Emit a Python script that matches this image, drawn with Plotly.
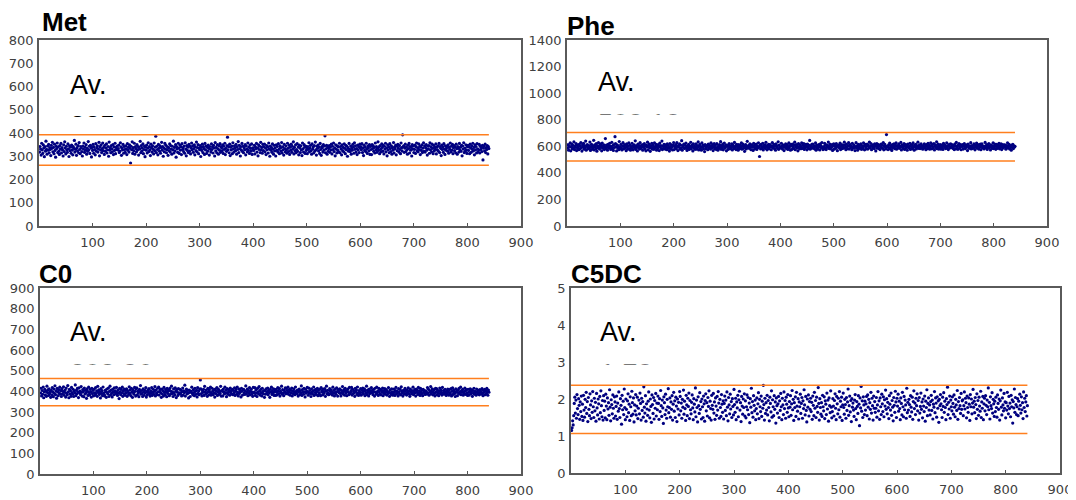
import plotly.graph_objects as go

# ---------------- data ----------------
met = [
318,342,331,305,356,327,312,349,336,298,341,322,365,330,309,344,326,351,315,337,
329,303,347,334,360,319,338,311,352,325,296,343,333,357,316,340,322,308,346,331,
355,314,337,327,301,349,320,362,335,310,343,328,317,353,332,299,345,324,339,313,
348,326,306,341,334,368,318,330,352,304,337,323,346,315,359,329,311,342,336,320,
301,344,331,357,317,339,326,350,309,334,321,363,328,343,312,347,335,297,338,325,
351,313,340,329,306,354,322,336,345,318,331,360,302,341,327,349,316,333,357,324,
339,308,347,321,335,353,314,328,342,300,361,326,337,315,346,332,319,350,307,340,
325,356,311,338,330,344,327,333,348,316,322,358,340,304,335,327,351,313,342,329,
317,345,332,307,354,326,339,318,349,334,271,343,328,362,312,337,324,356,309,341,
333,319,350,327,342,305,338,331,364,315,346,322,336,353,311,329,344,298,339,326,
348,314,335,358,320,341,327,303,352,337,318,345,330,310,357,324,339,386,316,343,
329,306,351,334,322,345,313,338,360,326,342,300,335,319,355,331,347,315,328,340,
304,337,324,353,318,346,331,309,343,327,365,314,338,323,350,296,341,332,317,356,
335,312,348,326,341,307,354,329,337,320,344,313,358,331,302,346,325,339,316,351,
322,343,310,336,357,328,345,317,333,349,306,340,324,361,319,337,350,311,334,328,
346,299,338,325,352,316,341,333,308,355,327,344,312,339,322,348,334,305,342,330,
318,353,329,340,314,347,336,301,359,323,338,315,350,332,309,345,326,354,317,341,
337,324,349,312,343,330,356,307,334,321,346,382,328,341,315,352,303,339,327,344,
311,358,332,318,345,336,324,351,309,340,329,363,316,347,333,301,342,326,355,320,
343,315,337,328,350,306,344,331,319,357,325,339,312,348,334,322,353,308,336,330,
325,347,310,341,333,355,318,336,302,349,329,343,316,360,327,338,313,351,324,340,
352,319,335,307,346,328,341,314,357,332,300,344,326,338,317,353,331,309,347,323,
336,301,349,325,342,318,354,330,311,345,337,322,359,314,340,328,305,351,333,319,
344,327,313,356,334,320,347,308,339,326,352,317,343,331,362,310,338,324,349,315,
329,354,321,340,306,348,335,316,345,327,303,357,332,318,350,339,312,344,325,337,
311,342,330,358,319,336,347,324,309,353,331,340,314,346,322,361,328,305,343,334,
348,323,339,312,355,329,304,341,337,318,350,326,344,388,315,332,347,309,338,321,
333,346,317,340,327,352,310,343,329,357,320,336,302,349,331,314,345,325,340,318,
356,315,342,331,306,349,324,338,319,353,334,311,347,328,343,300,336,322,355,330,
320,344,309,337,326,351,339,313,358,330,345,318,333,307,348,327,341,316,352,335,
341,328,354,316,335,303,347,325,339,320,356,331,312,344,336,323,350,308,342,329,
307,350,333,345,321,338,314,357,328,342,317,334,362,325,340,311,346,330,319,353,
338,322,347,310,343,331,356,319,336,302,349,327,341,315,354,333,320,345,309,337,
326,359,314,340,332,348,306,343,324,351,335,318,346,329,311,357,337,323,392,340,
345,317,335,352,320,339,328,309,347,333,355,314,342,326,338,301,350,331,344,316,
330,348,312,341,357,324,336,319,353,329,343,307,339,325,349,316,335,358,321,345,
318,337,350,326,305,344,332,346,313,358,328,340,319,352,334,311,347,323,339,330,
353,310,339,327,345,321,355,316,342,334,303,348,329,341,317,354,331,308,345,326,
336,344,322,349,313,338,330,357,319,343,326,351,311,337,346,324,340,315,352,333,
309,342,334,318,355,327,339,321,347,302,344,331,358,316,335,322,349,328,312,341,
347,325,340,311,352,336,317,345,330,356,323,338,306,349,327,342,314,354,332,319,
328,351,314,343,329,338,320,347,284,335,344,323,352,316,337,329,346,310,341,333,
]

phe = [
588,612,571,603,594,625,566,598,617,580,607,589,633,575,601,592,620,568,610,585,
597,574,615,602,583,628,591,564,609,596,622,578,605,587,639,570,600,613,581,594,
606,585,632,569,598,614,577,603,590,645,572,611,595,582,620,563,604,588,627,599,
579,618,593,607,566,624,586,600,611,575,596,658,583,609,592,571,615,601,587,623,
602,576,597,630,584,606,569,613,591,672,621,598,565,610,588,603,574,636,595,582,
614,589,572,604,627,580,599,612,586,607,567,619,594,578,602,625,583,609,570,597,
585,622,601,573,596,611,588,641,576,603,593,565,616,590,606,579,628,598,584,610,
598,570,613,592,620,581,604,566,608,595,631,574,600,617,587,562,605,591,623,578,
609,594,577,626,588,601,615,571,597,583,612,600,568,624,593,606,581,639,575,602,
587,615,603,579,610,592,574,618,590,606,584,564,621,597,580,611,594,572,607,628,
575,601,590,613,582,627,599,568,605,593,618,578,609,586,642,570,603,595,616,584,
611,586,624,597,569,604,588,615,576,600,592,630,581,607,596,565,619,589,604,577,
594,619,578,606,591,633,572,602,614,585,598,571,625,593,609,580,604,560,612,597,
582,606,599,574,617,588,610,595,579,626,601,587,613,568,598,620,583,607,591,576,
620,591,570,603,584,612,596,635,577,604,589,616,573,600,624,586,595,611,566,605,
599,576,608,621,593,581,603,588,619,572,610,597,583,629,591,604,575,615,600,587,
571,613,596,583,607,590,625,578,601,616,585,606,562,598,612,580,594,637,588,603,
606,585,619,598,574,611,592,603,569,622,595,580,608,591,617,576,602,589,626,594,
523,608,580,614,597,586,623,572,605,593,611,584,630,599,573,607,590,614,581,600,
612,595,574,602,628,587,599,615,583,606,570,619,594,603,585,634,577,609,596,588,
590,623,601,579,611,596,568,607,592,618,584,600,613,576,597,625,589,605,571,614,
603,577,616,594,585,609,631,574,598,612,587,604,566,620,593,581,610,599,582,626,
584,610,592,621,576,603,589,614,600,573,617,595,584,607,644,578,602,591,615,586,
617,593,606,581,598,625,570,609,587,601,579,613,597,572,618,604,588,628,594,575,
596,580,623,607,589,575,611,593,602,632,584,598,616,580,605,591,612,569,603,619,
578,614,599,585,621,601,567,606,594,610,588,624,575,600,613,583,597,608,586,631,
608,592,574,617,596,582,605,628,579,603,612,590,599,574,622,595,586,610,601,568,
593,627,588,602,571,615,598,584,609,591,619,577,606,592,580,626,603,573,614,597,
581,603,616,579,609,594,632,587,600,621,574,604,589,611,597,583,618,600,565,605,
620,586,597,612,583,606,575,598,617,590,609,585,628,573,602,614,594,580,688,599,
597,575,611,590,624,580,605,592,569,613,600,587,618,596,582,607,625,578,603,591,
604,618,585,601,593,629,572,610,597,584,606,621,576,599,612,589,604,570,616,595,
587,600,623,576,607,594,613,582,625,598,571,609,593,615,580,603,596,631,585,601,
611,583,596,618,589,602,578,606,594,619,587,600,574,612,599,583,622,593,607,578,
594,626,605,581,614,597,587,621,572,604,610,590,634,582,598,616,579,605,591,613,
578,600,590,611,576,623,601,594,608,583,597,626,588,603,575,612,600,588,619,596,
615,589,607,584,598,575,616,603,580,629,594,602,577,609,620,586,596,613,574,601,
599,612,579,604,621,592,583,607,595,611,568,617,598,585,603,593,627,580,606,590,
584,606,618,591,573,609,597,624,586,600,613,579,605,592,616,574,602,619,587,598,
602,580,595,629,603,587,612,576,608,594,621,589,600,572,611,598,584,604,626,583,
590,617,601,577,614,599,585,610,596,623,581,606,592,618,575,603,613,588,597,609,
611,594,578,605,592,626,587,601,615,580,604,596,571,609,590,614,583,603,594,600,
]

c0 = [
392,415,378,404,386,421,369,398,410,383,401,376,425,394,407,380,412,389,399,371,
405,382,418,396,374,411,390,427,384,402,367,414,397,379,408,393,420,386,403,375,
413,388,400,422,381,395,406,372,416,391,383,428,398,369,409,387,403,376,419,394,
386,410,375,402,393,431,379,405,388,414,397,370,417,392,401,384,423,395,377,408,
399,374,416,387,405,391,366,412,400,380,420,394,383,409,396,372,415,389,404,378,
410,393,381,418,389,402,376,424,395,407,385,399,368,413,390,403,379,421,392,386,
378,405,398,371,411,394,387,416,375,400,425,383,406,392,373,410,399,384,417,396,
402,387,419,395,380,406,391,365,414,398,384,409,393,420,376,402,389,411,381,404,
391,412,376,403,397,385,422,390,407,379,415,396,371,408,394,386,419,400,377,413,
417,383,401,392,374,409,398,428,386,404,390,375,412,397,381,405,393,418,372,399,
384,407,395,413,388,377,402,391,418,380,396,410,386,400,423,378,406,392,384,415,
398,420,382,399,409,393,371,411,387,403,377,419,395,384,408,397,374,414,390,402,
406,379,414,386,400,425,389,397,375,412,392,383,417,401,370,409,396,380,413,388,
393,410,388,405,378,398,416,382,402,394,430,377,399,411,387,404,391,368,406,395,
375,401,397,420,391,383,408,394,379,415,400,386,405,373,418,390,402,384,411,455,
412,389,378,403,395,410,380,424,398,387,406,392,376,414,399,383,408,395,420,381,
390,415,401,384,407,393,372,411,389,402,418,380,397,409,385,401,390,424,377,404,
401,378,411,396,388,420,391,405,374,413,394,386,408,399,381,416,392,403,387,410,
384,404,392,417,380,400,409,386,421,395,378,412,390,406,397,373,415,401,382,408,
409,393,385,402,426,388,397,411,379,404,391,418,383,400,410,386,396,376,419,392,
396,418,380,407,392,375,414,398,387,423,401,382,409,393,378,415,399,388,404,371,
403,386,412,390,399,416,383,405,394,371,410,397,420,385,402,391,412,380,398,407,
380,409,395,383,418,402,389,413,377,400,394,425,386,408,392,379,405,396,417,388,
414,391,403,420,386,397,410,381,405,392,416,378,401,389,412,399,384,421,393,402,
389,406,377,399,411,384,402,393,426,380,408,396,386,415,398,373,410,391,400,419,
398,381,416,392,404,390,375,412,396,387,402,421,380,406,394,409,385,399,414,379,
407,394,386,410,379,418,397,403,383,411,390,399,413,376,401,425,388,405,392,384,
385,413,401,389,407,396,382,420,391,404,378,410,395,386,417,399,377,408,400,393,
412,390,378,405,394,423,387,399,408,381,415,392,403,379,400,411,396,384,419,389,
394,403,419,382,410,389,401,393,376,414,398,407,385,421,392,380,404,397,388,413,
381,408,395,416,388,400,412,379,403,391,425,384,406,396,378,411,389,402,394,418,
403,392,384,409,398,377,415,396,386,420,393,401,380,414,399,387,410,383,405,395,
416,379,402,391,413,386,397,408,382,400,389,418,395,376,407,393,385,412,398,381,
390,411,396,380,404,419,388,401,393,378,413,397,386,409,383,422,400,391,377,405,
399,386,414,403,390,382,407,395,417,388,401,376,411,398,387,404,393,420,384,400,
408,393,377,411,396,405,385,419,391,402,380,414,397,389,406,379,410,395,403,387,
385,402,398,387,418,392,410,381,404,396,423,388,400,412,383,395,407,390,378,414,
397,413,384,405,393,379,401,416,389,407,395,382,419,391,404,386,399,410,392,380,
402,389,411,396,381,408,394,387,413,378,400,417,385,406,398,390,375,412,396,404,
379,406,393,414,387,399,420,384,403,395,409,381,397,389,416,402,385,408,393,380,
410,395,382,401,412,388,397,407,376,404,391,415,386,400,394,381,411,398,389,405,
392,383,408,395,400,386,413,390,379,405,397,410,384,402,389,414,395,381,406,396,
]

c5dc = [
1.15,1.22,1.41,1.30,1.55,1.88,2.05,1.62,1.97,1.48,2.12,1.74,1.58,2.01,1.83,1.45,1.92,1.66,2.08,1.53,
1.86,1.42,2.10,1.70,1.51,1.99,1.77,2.18,1.61,1.93,1.39,2.04,1.72,1.55,2.14,1.84,1.47,1.95,1.64,2.20,
1.79,1.50,2.02,1.68,1.91,1.40,2.15,1.76,1.57,2.00,1.87,1.46,2.07,1.63,2.22,1.82,1.52,1.96,1.43,2.09,
1.69,1.94,1.49,2.13,1.81,1.44,2.03,1.73,1.90,1.56,2.25,1.78,1.41,1.98,1.85,1.60,2.11,1.75,1.48,2.06,
1.92,1.54,1.80,2.08,1.45,1.89,1.67,2.19,1.74,1.50,2.01,1.83,1.32,2.10,1.71,1.94,1.58,2.27,1.77,1.44,
2.00,1.72,1.52,1.95,2.14,1.63,1.86,1.42,2.06,1.79,1.55,2.21,1.90,1.59,2.03,1.38,1.84,1.68,2.12,1.57,
1.81,2.05,1.47,1.75,1.97,1.60,2.16,1.88,1.43,2.02,1.69,1.93,1.51,2.33,1.78,1.62,2.09,1.40,1.87,1.73,
1.56,1.94,2.19,1.70,1.49,2.00,1.80,1.37,2.11,1.85,1.61,2.04,1.46,1.96,1.75,2.15,1.54,1.89,1.71,2.08,
1.88,1.45,2.01,1.66,2.23,1.82,1.53,1.97,1.76,1.34,2.06,1.90,1.58,2.13,1.70,1.48,1.99,1.79,2.28,1.63,
1.77,2.03,1.51,1.92,1.72,2.09,1.43,1.86,2.18,1.67,1.95,1.50,2.05,1.81,1.39,2.00,1.73,1.91,1.57,2.20,
2.07,1.68,1.89,1.48,1.99,1.78,2.24,1.59,1.94,1.74,1.42,2.10,1.84,1.55,2.02,1.80,2.16,1.47,1.96,1.71,
1.60,1.91,2.11,1.76,1.44,2.01,1.86,1.65,2.30,1.52,1.97,1.77,1.38,2.06,1.82,1.61,2.17,1.72,1.93,1.46,
2.00,1.79,1.50,2.08,1.87,1.40,1.96,2.14,1.68,1.90,1.54,2.04,1.80,2.22,1.49,1.94,1.74,1.43,2.10,1.83,
1.72,2.15,1.62,1.92,1.45,2.03,1.81,1.56,2.07,1.70,2.20,1.89,1.48,1.99,1.77,1.53,2.12,1.86,1.64,1.95,
1.46,1.88,2.08,1.69,1.97,1.55,2.19,1.78,1.41,2.04,1.84,1.60,2.13,1.73,1.93,1.50,2.01,1.80,1.57,2.26,
1.85,1.64,2.02,1.44,1.92,1.76,2.10,1.52,1.98,2.21,1.70,1.90,1.39,2.07,1.81,1.59,2.00,1.77,2.14,1.54,
1.95,1.49,1.79,2.11,1.71,2.04,1.58,1.89,1.36,2.01,1.78,2.29,1.63,1.93,1.51,2.09,1.83,1.68,1.97,1.44,
1.74,2.03,1.60,1.87,2.17,1.47,1.99,1.79,1.66,2.08,1.53,1.94,1.75,2.37,1.85,1.43,2.02,1.61,1.90,1.70,
2.10,1.57,1.96,1.77,1.41,2.05,1.88,1.65,2.22,1.51,1.98,1.79,1.55,2.09,1.72,1.92,1.35,2.03,1.82,1.62,
1.87,2.07,1.50,1.95,1.69,2.15,1.79,1.44,2.02,1.84,1.58,2.19,1.74,1.96,1.48,2.05,1.86,1.64,2.12,1.76,
1.52,1.93,1.78,2.09,1.56,1.87,2.23,1.71,1.99,1.42,1.90,1.77,2.06,1.53,2.18,1.81,1.67,2.01,1.46,1.92,
1.79,2.13,1.61,1.88,2.04,1.48,1.95,1.74,2.25,1.84,1.57,2.07,1.69,1.38,2.00,1.78,2.11,1.54,1.93,1.72,
2.02,1.66,1.91,1.45,2.08,1.83,1.55,2.18,1.75,1.96,1.50,2.05,1.80,1.64,2.31,1.88,1.43,2.01,1.77,1.59,
1.90,1.53,2.10,1.79,1.68,2.06,1.47,1.95,1.86,1.58,2.16,1.73,1.97,1.40,2.03,1.82,1.63,2.22,1.78,1.49,
1.66,2.01,1.81,1.54,1.96,2.14,1.75,1.44,2.07,1.87,1.60,2.02,1.71,2.20,1.51,1.94,1.79,2.05,1.42,1.84,
2.16,1.77,1.59,1.99,1.85,1.48,2.04,1.69,1.92,2.27,1.56,1.82,2.08,1.65,1.96,1.39,2.01,1.78,1.89,1.70,
1.53,1.97,2.12,1.74,1.44,1.93,1.80,1.61,2.09,1.86,1.28,2.03,1.76,2.34,1.67,1.95,1.50,2.06,1.84,1.58,
1.94,1.70,1.87,2.07,1.55,2.11,1.78,1.99,1.46,1.90,1.72,2.18,1.62,2.02,1.82,1.43,2.08,1.75,1.93,1.64,
1.75,2.04,1.51,1.84,2.20,1.68,1.95,1.45,2.03,1.79,1.58,2.13,1.87,1.66,2.06,1.52,1.98,1.81,2.24,1.72,
2.01,1.60,1.91,1.77,1.47,2.09,1.86,1.70,2.16,1.56,1.96,1.78,1.41,2.04,1.83,1.64,2.21,1.92,1.50,2.02,
1.81,2.13,1.67,1.94,1.74,1.44,2.03,1.88,1.57,2.18,1.79,1.52,2.07,1.71,1.97,1.84,1.48,2.29,1.63,1.91,
1.70,1.99,1.85,1.53,2.09,1.78,1.65,2.05,1.45,1.93,2.22,1.74,1.89,1.58,2.02,1.82,2.14,1.68,1.96,1.43,
2.04,1.62,1.80,2.16,1.72,1.92,1.49,2.00,1.81,1.66,2.08,1.40,1.94,1.77,2.25,1.55,1.88,2.03,1.70,1.84,
1.57,1.93,2.10,1.69,1.97,1.46,1.86,1.78,2.20,1.63,2.03,1.89,1.51,2.06,1.75,1.95,1.37,1.99,1.82,2.12,
1.87,1.71,1.50,2.05,1.80,2.17,1.64,1.94,1.77,1.44,2.01,1.85,2.32,1.58,1.91,1.73,2.08,1.48,1.97,1.79,
1.68,2.06,1.88,1.59,2.11,1.78,1.52,1.99,1.84,1.69,2.23,1.45,1.93,1.74,2.04,1.82,1.61,2.15,1.72,1.95,
1.98,1.55,1.82,2.19,1.73,2.02,1.90,1.49,2.08,1.77,1.64,2.03,1.86,1.42,2.12,1.79,2.00,1.60,1.89,2.26,
1.78,1.94,1.63,2.04,1.85,1.47,2.14,1.72,1.96,1.56,2.05,1.81,1.67,2.21,1.50,1.92,1.75,2.07,1.44,1.87,
2.02,1.68,2.09,1.83,1.58,1.97,1.79,2.30,1.71,1.91,1.46,2.06,1.82,1.74,2.17,1.62,1.99,1.87,1.53,1.94,
1.66,2.05,1.77,1.51,2.11,1.88,1.72,2.00,1.43,1.95,2.24,1.78,1.57,2.03,1.84,1.68,2.15,1.75,1.92,1.49,
1.90,1.70,2.18,1.81,1.60,2.07,1.74,1.89,1.52,2.10,1.79,1.98,1.35,1.93,1.76,2.27,1.64,2.04,1.85,1.58,
1.79,2.01,1.55,1.94,1.73,2.13,1.83,1.62,2.06,1.71,1.90,1.47,2.19,1.77,2.02,1.66,1.92,2.09,1.54,1.82,
]

titles = ["Met", "Phe", "C0", "C5DC"]
averages = ["325.33", "593.13", "398.86", "1.78"]
lower_limits = [261, 490, 330, 1.07]
upper_limits = [393, 703, 462, 2.37]
y_max = [800, 1400, 900, 5]
y_step = [100, 200, 100, 1]
x_tick_labels = [100, 200, 300, 400, 500, 600, 700, 800, 900]
series = [met, phe, c0, c5dc]

# ---------------- layout geometry (screen pixels) ----------------
# the page body has an 8px margin, so the figure is drawn 8px smaller and
# all positions below are given in window pixels
OFF = 8
W, H = 1076 - OFF, 500 - OFF
boxes = [(39, 521, 40, 226), (567, 1047, 40, 226), (40, 521, 288, 474), (571, 1060, 288, 473)]
title_pos = [(41, 22.5), (566, 26), (38, 274), (570, 274)]
av_pos = [(68, 85), (596, 81.5), (68, 332), (598, 332)]
num_clip = [(117, 115), (114.5, 112.5), (364.5, 362.5), (364.5, 362.5)]

def px(xp):
    return (xp - OFF) / W

def py(yp):
    return 1 - (yp - OFF) / H

fig = go.Figure()
layout = dict(width=W, height=H, autosize=False, margin=dict(l=0, r=0, t=0, b=0, pad=0),
              paper_bgcolor="white", plot_bgcolor="white", showlegend=False)
annotations = []

tick_font = dict(family="DejaVu Sans", size=13, color="#404040")

for i in range(4):
    k = i + 1
    sx = "" if k == 1 else str(k)
    xa, ya = "x" + sx, "y" + sx
    vals = series[i]
    n = len(vals)
    idx = list(range(1, n + 1))
    fig.add_trace(go.Scatter(x=idx, y=vals, mode="markers",
                             marker=dict(size=3.2, color="#000080", line=dict(width=0)),
                             xaxis=xa, yaxis=ya, hoverinfo="skip"))
    for lim in (lower_limits[i], upper_limits[i]):
        fig.add_trace(go.Scatter(x=[0, n], y=[lim, lim], mode="lines",
                                 line=dict(color="#ff7f1e", width=1.5),
                                 xaxis=xa, yaxis=ya, hoverinfo="skip"))
    x0, x1, y0, y1 = boxes[i]
    layout["xaxis" + sx] = dict(domain=[px(x0), px(x1)], range=[0, 900], tickvals=x_tick_labels,
                                ticks="inside", ticklen=3, tickcolor="#555555", tickwidth=1,
                                showline=True, linecolor="#5a5a5a", linewidth=1.5, mirror=True,
                                showgrid=False, zeroline=False, tickfont=tick_font,
                                ticklabelstandoff=4,
                                anchor=ya, fixedrange=True, automargin=False)
    layout["yaxis" + sx] = dict(domain=[py(y1), py(y0)], range=[0, y_max[i]], dtick=y_step[i], tick0=0,
                                ticks="", showline=True, linecolor="#5a5a5a", linewidth=1.5, mirror=True,
                                showgrid=False, zeroline=False, tickfont=tick_font,
                                ticklabelstandoff=1, anchor=xa, fixedrange=True, automargin=False)
    # titles and "Av." captions
    tx, tyc = title_pos[i]
    annotations.append(dict(text="<b>" + titles[i] + "</b>", xref="paper", yref="paper",
                            x=px(tx), y=py(tyc), xanchor="left", yanchor="middle", showarrow=False,
                            borderpad=0,
                            font=dict(family="Liberation Sans", size=26, color="black")))
    axp, ayc = av_pos[i]
    annotations.append(dict(text="Av.", xref="paper", yref="paper",
                            x=px(axp), y=py(ayc), xanchor="left", yanchor="middle", showarrow=False,
                            font=dict(family="Liberation Sans", size=27, color="black")))
    # average value, clipped to a thin strip (only its top is visible)
    j = k + 4
    clip_px, top_px = num_clip[i]
    strip_h = 20.0
    layout["xaxis" + str(j)] = dict(domain=[px(x0), px(x1)], range=[x0, x1], visible=False,
                                    anchor="y" + str(j), fixedrange=True, automargin=False)
    layout["yaxis" + str(j)] = dict(domain=[py(clip_px), py(clip_px - strip_h)], range=[clip_px, clip_px - strip_h],
                                    visible=False, anchor="x" + str(j), fixedrange=True, automargin=False)
    center_px = top_px + 13.5
    fig.add_trace(go.Scatter(x=[axp + 2], y=[center_px], mode="text", text=[averages[i]],
                             textposition="middle right", cliponaxis=True,
                             textfont=dict(family="Liberation Sans", size=27, color="black"),
                             xaxis="x" + str(j), yaxis="y" + str(j), hoverinfo="skip"))

layout["annotations"] = annotations
fig.update_layout(**layout)
fig.write_html("out.html")
